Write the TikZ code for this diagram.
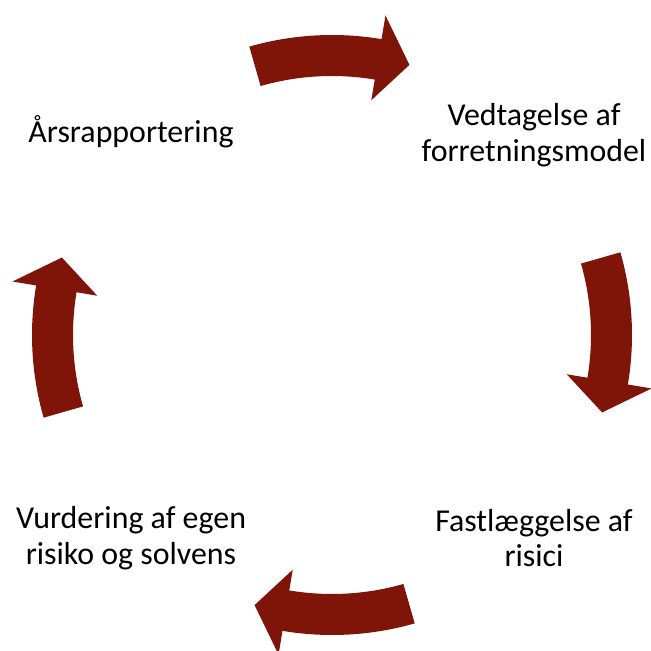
\documentclass[tikz,border=0pt]{standalone}
\usepackage{fontspec}
\setmainfont{Carlito}
\usetikzlibrary{positioning}
\definecolor{cyclered}{RGB}{127,20,9}
\tikzstyle{stage} = [align=center, inner sep=0pt, font=\fontsize{32}{36}\selectfont]
\tikzstyle{cyclearrow} = [fill=cyclered, draw=none]

\begin{document}
\begin{tikzpicture}[x=1bp, y=1bp]
\useasboundingbox (0,0) rectangle (651,651);
\coordinate (mid) at (332,316);

\node (vedtag) [stage] at (534,516) {Vedtagelse af\\forretningsmodel};
\node (fastl) [stage] at (534,113) {Fastlæggelse af\\risici};
\node (vurd) [stage] at (131,113) {Vurdering af egen\\risiko og solvens};
\node (aars) [stage] at (131,519) {Årsrapportering};

% the four curved arrows of the cycle
\foreach \a in {90,0,-90,180}{
  \fill [cyclearrow, shift={(mid)}]
    (\a+16:300) arc[start angle=\a+16, end angle=\a-9.5, radius=300]
    -- (\a-9.5:324) -- (\a-16:281) -- (\a-9.5:238) -- (\a-9.5:259)
    arc[start angle=\a-9.5, end angle=\a+16, radius=259] -- cycle;
}
\end{tikzpicture}
\end{document}
